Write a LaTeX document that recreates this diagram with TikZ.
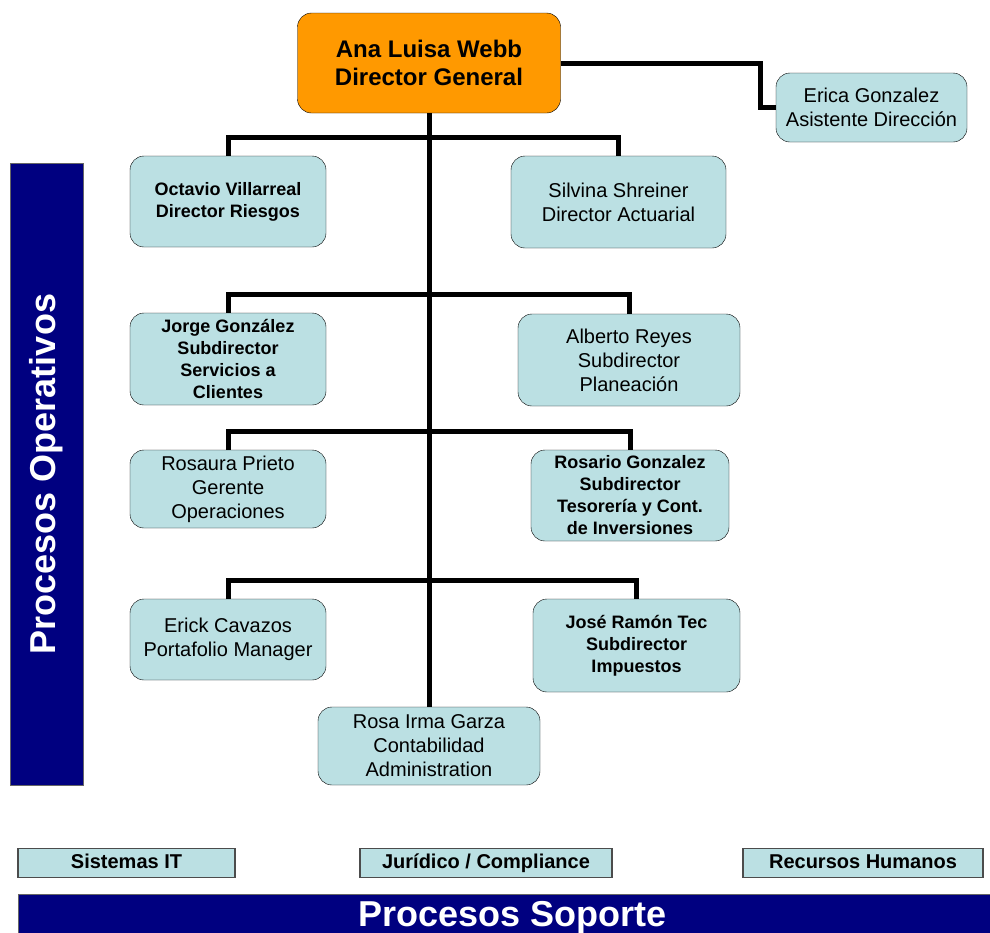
\documentclass[tikz,border=0pt]{standalone}
\usepackage{fontspec}
\setmainfont{Liberation Sans}
\usepackage{xcolor}
\definecolor{Ice Blue}{HTML}{BBE0E3}
\definecolor{Deep Orange}{HTML}{FF9900}
\definecolor{Navy Blue}{HTML}{000080}
\colorlet{cIce}{Ice Blue}
\colorlet{cOrange}{Deep Orange}
\colorlet{cNavy}{Navy Blue}
\usepackage{tikz}
\usetikzlibrary{calc, positioning}
\tikzset{
	line width=1.5pt,
	unit/.style={
		draw,
		rounded corners=14pt,
		fill=cIce,
		align=center,
		inner sep=2pt,
		font=\fontsize{20}{24}\selectfont
	},
	bold unit/.style={
		unit,
		font=\bfseries\fontsize{18}{22}\selectfont
	},
	head unit/.style={
		unit,
		fill=cOrange,
		font=\bfseries\fontsize{24}{28}\selectfont
	},
	support unit/.style={
		draw=black!70,
		line width=1.2pt,
		fill=cIce,
		inner sep=0pt,
		minimum height=29,
		text height=14.5pt,
		text depth=4pt,
		font=\bfseries\fontsize{20}{22}\selectfont
	},
	band/.style={
		draw=black!60,
		line width=1pt,
		fill=cNavy,
		text=white,
		inner sep=0pt,
		font=\bfseries\fontsize{36}{40}\selectfont
	},
	link/.style={
		line width=5pt
	}
}

\begin{document}
\begin{tikzpicture}[x=1pt, y=-1pt]
		\useasboundingbox (0,0) rectangle (990,932);

		\node[head unit, minimum width=263, minimum height=100] (ana) at (429,63) {Ana Luisa Webb\\Director General};
		\node[unit, minimum width=191, minimum height=69] (eri) at (871.5,107.5) {Erica Gonzalez\\Asistente Dirección};

		\node[bold unit, minimum width=196, minimum height=91] (oct) at (228,201.5) {Octavio Villarreal\\Director Riesgos};
		\node[unit, minimum width=215, minimum height=92] (sil) at (618.5,202) {Silvina Shreiner\\Director Actuarial};

		\node[bold unit, minimum width=196, minimum height=92] (jor) at (228,359) {Jorge González\\Subdirector\\Servicios a\\Clientes};
		\node[unit, minimum width=222, minimum height=92] (alb) at (629,360) {Alberto Reyes\\Subdirector\\Planeación};

		\node[unit, minimum width=196, minimum height=78] (rsa) at (228,489) {Rosaura Prieto\\Gerente\\Operaciones};
		\node[bold unit, minimum width=198, minimum height=91] (rsr) at (630,495.5) {Rosario Gonzalez\\Subdirector\\Tesorería y Cont.\\de Inversiones};

		\node[unit, minimum width=196, minimum height=81] (erk) at (228,639.5) {Erick Cavazos\\Portafolio Manager};
		\node[bold unit, minimum width=207, minimum height=93] (jos) at (636.5,645.5) {José Ramón Tec\\Subdirector\\Impuestos};

		\node[unit, minimum width=222, minimum height=78] (rim) at (429,746) {Rosa Irma Garza\\Contabilidad\\Administration};

		\draw[link] (ana.south) to (rim.north);
		\draw[link] (ana.east) -- ++(200,0) |- (eri.west);
		\draw[link] (oct.north) -- ++(0,-18) -| (sil.north);
		\draw[link] (jor.north) -- ++(0,-18) -| (alb.north);
		\draw[link] (rsa.north) -- ++(0,-18) -| (rsr.north);
		\draw[link] (erk.north) -- ++(0,-18) -| (jos.north);

		\node[band, minimum width=622, minimum height=73, rotate=90] (ops) at (46.5,474) {Procesos Operativos};

		\node[support unit, minimum width=217] (sis) at (126.5,863) {Sistemas IT};
		\node[support unit, minimum width=252] (jur) at (486,863) {Jurídico / Compliance};
		\node[support unit, minimum width=240] (rrh) at (863,863) {Recursos Humanos};

		\node[band, minimum width=989, minimum height=48] (sop) at (512.5,918) {Procesos Soporte};
	\end{tikzpicture}
\end{document}
